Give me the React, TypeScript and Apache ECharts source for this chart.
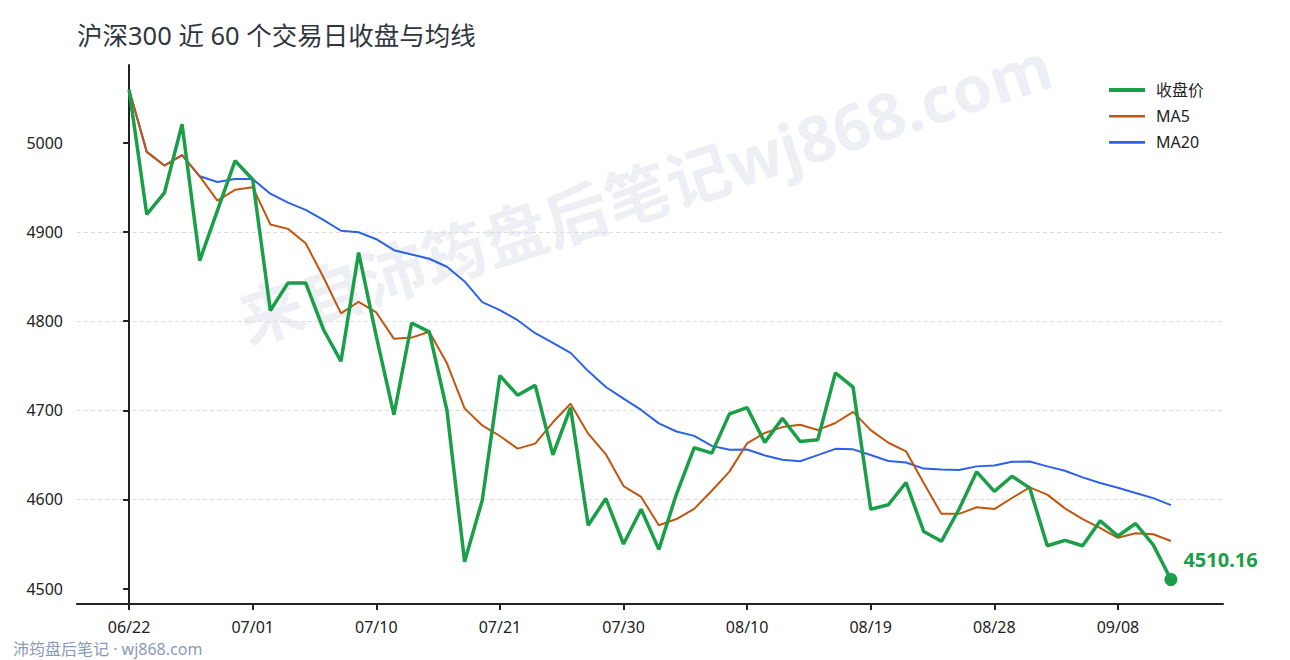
import { useEffect, useRef } from 'react';
import * as echarts from 'echarts';

// 交易日（06/22 起共 60 个）
const dates = [
  '06/22', '06/23', '06/24', '06/25', '06/26', '06/29', '06/30', '07/01', '07/02', '07/03',
  '07/06', '07/07', '07/08', '07/09', '07/10', '07/13', '07/14', '07/15', '07/16', '07/17',
  '07/20', '07/21', '07/22', '07/23', '07/24', '07/27', '07/28', '07/29', '07/30', '07/31',
  '08/03', '08/04', '08/05', '08/06', '08/07', '08/10', '08/11', '08/12', '08/13', '08/14',
  '08/17', '08/18', '08/19', '08/20', '08/21', '08/24', '08/25', '08/26', '08/27', '08/28',
  '08/31', '09/01', '09/02', '09/03', '09/04', '09/07', '09/08', '09/09', '09/10', '09/11',
];

const closes = [
  5060, 4920, 4944, 5021, 4868, 4924, 4980, 4959, 4812, 4843,
  4843, 4791, 4755, 4877, 4783, 4695, 4798, 4788, 4700, 4530,
  4599, 4739, 4717, 4728, 4650, 4703, 4571, 4601, 4550, 4589,
  4544, 4606, 4658, 4652, 4696, 4703, 4664, 4691, 4665, 4667,
  4742, 4726, 4589, 4594, 4619, 4564, 4553, 4589, 4631, 4609,
  4626, 4613, 4548, 4554, 4548, 4576, 4559, 4573, 4549, 4510.16,
];

const ma5 = [
  5060, 4990, 4974.7, 4986.3, 4962.6, 4935.4, 4947.4, 4950.4, 4908.6, 4903.6,
  4887.4, 4849.6, 4808.8, 4821.8, 4809.8, 4780.2, 4781.6, 4788.2, 4752.8, 4702.2,
  4683, 4671.2, 4657, 4662.6, 4686.6, 4707.4, 4673.8, 4650.6, 4615, 4602.8,
  4571, 4578, 4589.4, 4609.8, 4631.2, 4663, 4674.6, 4681.2, 4683.8, 4678,
  4685.8, 4698.2, 4677.8, 4663.6, 4654, 4618.4, 4583.8, 4583.8, 4591.2, 4589.2,
  4601.6, 4613.6, 4605.4, 4590, 4577.8, 4567.8, 4557, 4562, 4561, 4553.4,
];

const ma20 = [
  5060, 4990, 4974.7, 4986.3, 4962.6, 4956.2, 4959.6, 4959.5, 4943.1, 4933.1,
  4924.9, 4913.8, 4901.5, 4899.8, 4892, 4879.7, 4874.9, 4870.1, 4861.1, 4844.6,
  4821.5, 4812.5, 4801.1, 4786.5, 4775.6, 4764.5, 4744, 4726.2, 4713.1, 4700.4,
  4685.4, 4676.2, 4671.3, 4660.1, 4655.7, 4656.1, 4649.4, 4644.6, 4642.8, 4649.7,
  4656.8, 4656.2, 4649.8, 4643.1, 4641.5, 4634.6, 4633.7, 4633.1, 4637.1, 4638.1,
  4642.2, 4642.6, 4637.1, 4632.2, 4624.8, 4618.4, 4613.2, 4607.3, 4601.5, 4593.6,
];

const yTicks = [4500, 4600, 4700, 4800, 4900, 5000];
const xTickIdx = [0, 7, 14, 21, 28, 35, 42, 49, 56];

const GREEN = '#1a9f48';
const ORANGE = '#c0560f';
const BLUE = '#2b62e8';
const FONT = '"Noto Sans", "Noto Sans CJK SC", sans-serif';

export default function App() {
  const chartRef = useRef<HTMLDivElement>(null);

  useEffect(() => {
    document.body.style.margin = '0';
    if (!chartRef.current) return;
    const chart = echarts.init(chartRef.current, undefined, { renderer: 'svg' });

    const n = closes.length;
    const yLo = Math.min(...closes);
    const yHi = Math.max(...closes);
    const yPad = (yHi - yLo) * 0.05;
    const xPad = (n - 1) * 0.05;
    const last = closes[n - 1];

    chart.setOption({
      animation: false,
      textStyle: { fontFamily: FONT },
      title: {
        text: '沪深300 近 60 个交易日收盘与均线',
        left: 77,
        top: 22,
        padding: 0,
        textStyle: { fontSize: 25.5, fontWeight: 'normal', color: '#2f3640', fontFamily: FONT },
      },
      legend: {
        data: [
          { name: '收盘价', icon: 'path://M0 0H36V4H0Z' },
          { name: 'MA5', icon: 'path://M0 0H36V2.4H0Z' },
          { name: 'MA20', icon: 'path://M0 0H36V2.6H0Z' },
        ],
        orient: 'vertical',
        left: 1109,
        top: 82,
        padding: 0,
        itemWidth: 36,
        itemHeight: 14,
        itemGap: 10.2,
        selectedMode: false,
        textStyle: { fontSize: 16, color: '#222', padding: [0, 0, 0, 6] },
      },
      graphic: [
        {
          type: 'text',
          x: 645,
          y: 192,
          rotation: 0.31,
          z: 0,
          silent: true,
          style: {
            text: '来自沛筠盘后笔记wj868.com',
            font: `bold 64px ${FONT}`,
            fill: 'rgba(200, 205, 222, 0.33)',
            textAlign: 'center',
            textVerticalAlign: 'middle',
          },
        },
        {
          type: 'text',
          left: 13,
          top: 641,
          silent: true,
          style: {
            text: '沛筠盘后笔记 · wj868.com',
            font: `16px ${FONT}`,
            fill: '#8a9ab8',
          },
        },
      ],
      grid: { left: 77, right: 67, top: 65, bottom: 56, containLabel: false },
      xAxis: {
        type: 'value',
        min: -xPad,
        max: n - 1 + xPad,
        axisLine: { show: true, lineStyle: { color: '#222', width: 2 } },
        axisTick: {
          show: true,
          length: 6,
          customValues: xTickIdx,
          lineStyle: { color: '#222', width: 2 },
        },
        axisLabel: {
          customValues: xTickIdx,
          margin: 15,
          fontSize: 16,
          color: '#222',
          formatter: (v: number) => dates[Math.round(v)] ?? '',
        },
        splitLine: { show: false },
      },
      yAxis: {
        type: 'value',
        min: yLo - yPad,
        max: yHi + yPad,
        axisLine: { show: true, lineStyle: { color: '#222', width: 2 } },
        axisTick: {
          show: true,
          length: 6,
          customValues: yTicks,
          lineStyle: { color: '#222', width: 2 },
        },
        axisLabel: {
          customValues: yTicks,
          margin: 14,
          fontSize: 16,
          color: '#222',
          formatter: (v: number) => String(v),
        },
        splitLine: {
          show: true,
          showMinLine: false,
          showMaxLine: false,
          lineStyle: { color: '#dcdcdc', type: [4, 3], width: 1 },
        },
      },
      series: [
        {
          name: 'MA20',
          type: 'line',
          symbol: 'none',
          z: 2,
          lineStyle: { color: BLUE, width: 2 },
          itemStyle: { color: BLUE },
          data: ma20.map((v, i) => [i, v]),
        },
        {
          name: 'MA5',
          type: 'line',
          symbol: 'none',
          z: 3,
          lineStyle: { color: ORANGE, width: 2 },
          itemStyle: { color: ORANGE },
          data: ma5.map((v, i) => [i, v]),
        },
        {
          name: '收盘价',
          type: 'line',
          symbol: 'none',
          z: 4,
          lineStyle: { color: GREEN, width: 3.5 },
          itemStyle: { color: GREEN },
          data: closes.map((v, i) => [i, v]),
        },
        {
          name: 'last',
          type: 'scatter',
          z: 5,
          symbolSize: 13,
          itemStyle: { color: GREEN, opacity: 1 },
          label: {
            show: true,
            position: 'right',
            distance: 6,
            offset: [0, -20],
            formatter: () => last.toFixed(2),
            color: GREEN,
            fontSize: 20,
            fontWeight: 'bold',
            fontFamily: FONT,
          },
          data: [[n - 1, last]],
        },
      ],
    });

    return () => chart.dispose();
  }, []);

  return <div ref={chartRef} style={{ width: 1290, height: 660 }} />;
}
